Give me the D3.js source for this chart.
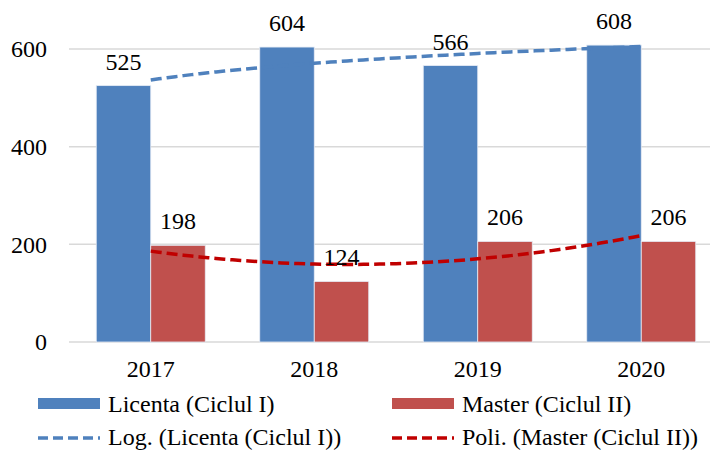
<!DOCTYPE html>
<html lang="en">
<head>
<meta charset="UTF-8">
<title>Licenta / Master</title>
<script src="https://d3js.org/d3.v7.min.js"></script>
</head>
<body style="margin:0">
<script>
// date
const years = ["2017", "2018", "2019", "2020"];
const licenta = [525, 604, 566, 608];
const master = [198, 124, 206, 206];
const yTicks = [0, 200, 400, 600];
const seriesNames = ["Licenta (Ciclul I)", "Master (Ciclul II)"];
const trendNames = ["Log. (Licenta (Ciclul I))", "Poli. (Master (Ciclul II))"];

const W = 710, H = 450;
const plot = {left: 69, right: 723, top: 0, bottom: 342};
const blue = "#4f81bd", red = "#c0504d", darkRed = "#c00000";
const fs = 24;

const svg = d3.select("body").append("svg")
    .attr("width", W).attr("height", H);

const x = d3.scaleBand().domain(years).range([plot.left, plot.right]);
const inner = d3.scaleBand().domain([0, 1]).range([0, x.bandwidth()])
    .paddingOuter(0.5);
const y = d3.scaleLinear().domain([0, 600]).range([plot.bottom, 49]);

// grila
svg.append("g")
  .selectAll("line").data(yTicks).join("line")
    .attr("x1", plot.left).attr("x2", plot.right)
    .attr("y1", d => y(d)).attr("y2", d => y(d))
    .attr("stroke", "#d9d9d9").attr("stroke-width", 1.5);

// axa Y
const yAxis = svg.append("g")
    .attr("transform", `translate(${plot.left},0)`)
    .call(d3.axisLeft(y).tickValues(yTicks).tickSize(0).tickPadding(22));
yAxis.select(".domain").remove();

// axa X
const xAxis = svg.append("g")
    .attr("transform", `translate(0,${plot.bottom})`)
    .call(d3.axisBottom(x).tickSize(0).tickPadding(18));
xAxis.select(".domain").remove();

// bare
const series = [licenta, master];
const colors = [blue, red];
series.forEach((vals, s) => {
  svg.append("g").selectAll("rect").data(vals).join("rect")
    .attr("x", (d, i) => x(years[i]) + inner(s))
    .attr("width", inner.bandwidth())
    .attr("y", d => y(d))
    .attr("height", d => y(0) - y(d))
    .attr("fill", colors[s])
    .attr("stroke", "#e6ecf5").attr("stroke-width", 0.8);
});

// linii de tendinta (regresie pe date)
const xs = [1, 2, 3, 4];
function logFit(v) {
  const lx = xs.map(Math.log);
  const mx = d3.mean(lx), my = d3.mean(v);
  const b = d3.sum(lx, (l, i) => (l - mx) * (v[i] - my)) / d3.sum(lx, l => (l - mx) ** 2);
  const a = my - b * mx;
  return t => a + b * Math.log(t);
}
function polyFit(v) {
  // grad 2, x centrat
  const c = d3.mean(xs);
  const t = xs.map(d => d - c);
  const n = t.length;
  const s2 = d3.sum(t, d => d * d), s4 = d3.sum(t, d => d ** 4);
  const sy = d3.sum(v), sty = d3.sum(t, (d, i) => d * v[i]), st2y = d3.sum(t, (d, i) => d * d * v[i]);
  const c1 = sty / s2;
  const c2 = (st2y - s2 * sy / n) / (s4 - s2 * s2 / n);
  const c0 = (sy - c2 * s2) / n;
  return u => c0 + c1 * (u - c) + c2 * (u - c) ** 2;
}
const xc = t => x(years[0]) + x.bandwidth() / 2 + (t - 1) * x.step();
const samples = d3.range(1, 4.0001, 0.05);
const line = d3.line().x(d => xc(d[0])).y(d => y(d[1]));

const fLog = logFit(licenta), fPoly = polyFit(master);
svg.append("path")
    .attr("d", line(samples.map(t => [t, fLog(t)])))
    .attr("fill", "none").attr("stroke", blue).attr("stroke-width", 3.5)
    .attr("stroke-dasharray", "11,5");
svg.append("path")
    .attr("d", line(samples.map(t => [t, fPoly(t)])))
    .attr("fill", "none").attr("stroke", darkRed).attr("stroke-width", 3.5)
    .attr("stroke-dasharray", "11,5");

// etichete
series.forEach((vals, s) => {
  svg.append("g").selectAll("text").data(vals).join("text")
    .attr("x", (d, i) => x(years[i]) + inner(s) + inner.bandwidth() / 2)
    .attr("y", d => y(d) - 16)
    .attr("text-anchor", "middle")
    .text(d => d);
});

// legenda
const leg = svg.append("g");
const legX = [38, 392];
seriesNames.forEach((name, i) => {
  leg.append("rect").attr("x", legX[i]).attr("y", 398)
    .attr("width", 62).attr("height", 11).attr("fill", colors[i]);
  leg.append("text").attr("x", legX[i] + 70).attr("y", 412).text(name);
});
const trendColors = [blue, darkRed];
trendNames.forEach((name, i) => {
  leg.append("line").attr("x1", legX[i]).attr("x2", legX[i] + 62)
    .attr("y1", 438).attr("y2", 438)
    .attr("stroke", trendColors[i]).attr("stroke-width", 3.5)
    .attr("stroke-dasharray", "10,5");
  leg.append("text").attr("x", legX[i] + 70).attr("y", 445).text(name);
});

// font pe fiecare text
svg.selectAll("text")
    .attr("fill", "#000")
    .attr("font-family", "Liberation Serif")
    .style("font-family", '"Liberation Serif"')
    .style("font-size", fs + "px");
</script>
</body>
</html>
